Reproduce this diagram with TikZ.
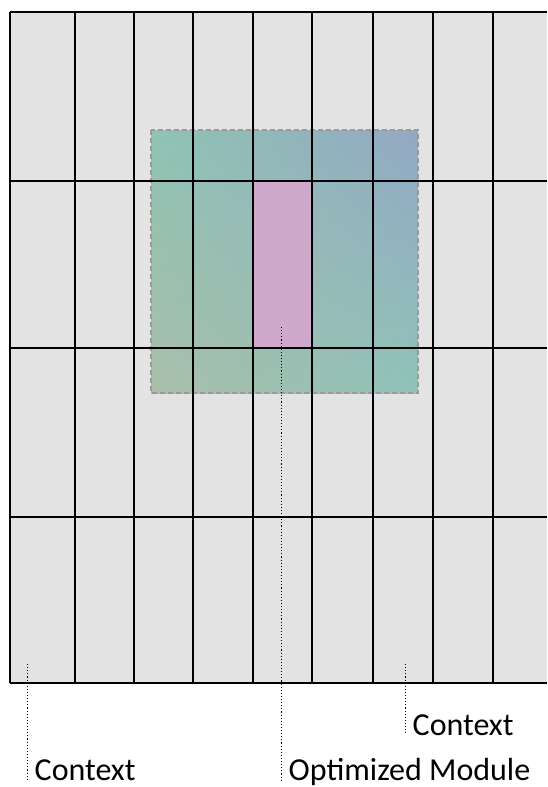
\documentclass[tikz,border=0pt]{standalone}
\usepackage{fontspec}
\setmainfont{Carlito}
\usetikzlibrary{shadings}
\definecolor{cellgray}{HTML}{E3E3E3}
\definecolor{modpink}{HTML}{CFA9CB}
\definecolor{tealA}{HTML}{8FC4B3}
\definecolor{tealB}{HTML}{8FC3B8}
\definecolor{blueA}{HTML}{93A8C4}
\definecolor{sandA}{HTML}{A9BEAA}
\definecolor{framegray}{HTML}{9A9A9A}
\begin{document}
\begin{tikzpicture}[x=1pt,y=-1pt,
  gridline/.style={black,line width=2pt},
  leader/.style={black,dotted,line width=1.1pt},
  label/.style={anchor=base west,inner xsep=7pt,inner ysep=0pt,font=\fontsize{32}{36}\selectfont}]
\useasboundingbox (0,0) rectangle (547,787);
% background of the grid
\fill[cellgray] (10,12) rectangle (547,683);
% window around the optimized module
\shade[upper left=tealA,upper right=blueA,lower left=sandA,lower right=tealB]
  (151,130) rectangle (418,393);
\draw[framegray,dash pattern=on 5pt off 3pt,line width=1.3pt] (151,130) rectangle (418,393);
\fill[modpink] (253,181) rectangle (312,348);
% grid lines
\foreach \x in {10,75,134,193,253,312,373,433,493}
  \draw[gridline] (\x,12) -- (\x,683);
\foreach \y in {12,181,348,517,683}
  \draw[gridline] (10,\y) -- (547,\y);
% labels
\coordinate (ctxleft) at (27.5,664);
\coordinate (modtop) at (281.5,327);
\coordinate (ctxright) at (405.5,664);
\node[label] (ctxleftlabel) at (27.5,780) {Context};
\node[label] (modlabel) at (281.5,780) {Optimized Module};
\node[label] (ctxrightlabel) at (405.5,735) {Context};
\draw[leader] (ctxleft) -- (ctxleftlabel.base west);
\draw[leader] (modtop) -- (modlabel.base west);
\draw[leader] (ctxright) -- (ctxrightlabel.base west);
\end{tikzpicture}
\end{document}
